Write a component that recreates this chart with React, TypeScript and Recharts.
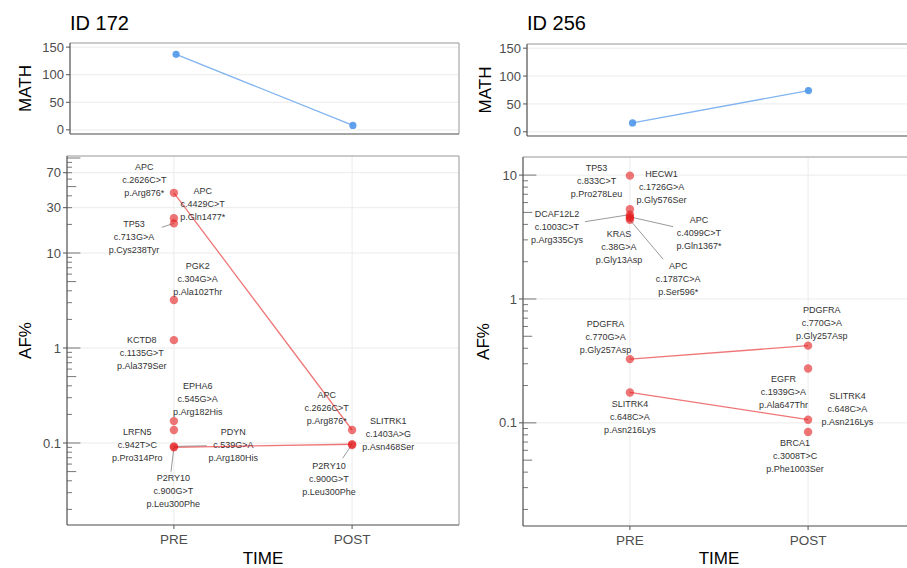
import React from 'react';
import { ScatterChart, Scatter, XAxis, YAxis, CartesianGrid, ReferenceLine } from 'recharts';

// ---- data ----
const timeLabels = ['PRE', 'POST'];
const mathTicks = [0, 50, 100, 150];
const math172 = [137, 8];
const math256 = [16, 74];

const afTicks172 = [0.1, 1, 10, 30, 70];
const afTicks256 = [0.1, 1, 10];

const genes172 = ['APC', 'APC', 'TP53', 'PGK2', 'KCTD8', 'EPHA6', 'LRFN5', 'PDYN', 'P2RY10', 'SLITRK1'];
const cdna172 = ['c.2626C>T', 'c.4429C>T', 'c.713G>A', 'c.304G>A', 'c.1135G>T', 'c.545G>A', 'c.942T>C', 'c.539G>A', 'c.900G>T', 'c.1403A>G'];
const protein172 = ['p.Arg876*', 'p.Gln1477*', 'p.Cys238Tyr', 'p.Ala102Thr', 'p.Ala379Ser', 'p.Arg182His', 'p.Pro314Pro', 'p.Arg180His', 'p.Leu300Phe', 'p.Asn468Ser'];
const pre172 = [43, 23.2, 20.5, 3.2, 1.21, 0.17, 0.137, 0.092, 0.09, null];
const post172 = [0.137, null, null, null, null, null, null, null, 0.097, 0.095];

const genes256 = ['TP53', 'HECW1', 'DCAF12L2', 'APC', 'KRAS', 'APC', 'PDGFRA', 'SLITRK4', 'EGFR', 'BRCA1'];
const cdna256 = ['c.833C>T', 'c.1726G>A', 'c.1003C>T', 'c.4099C>T', 'c.38G>A', 'c.1787C>A', 'c.770G>A', 'c.648C>A', 'c.1939G>A', 'c.3008T>C'];
const protein256 = ['p.Pro278Leu', 'p.Gly576Ser', 'p.Arg335Cys', 'p.Gln1367*', 'p.Gly13Asp', 'p.Ser596*', 'p.Gly257Asp', 'p.Asn216Lys', 'p.Ala647Thr', 'p.Phe1003Ser'];
const pre256 = [9.9, 5.3, 4.8, 4.6, 4.5, 4.35, 0.327, 0.176, null, null];
const post256 = [null, null, null, null, null, null, 0.42, 0.106, 0.275, 0.0845];

// ---- label placement (repelled labels, px offsets from the point) ----
type Off = number[] | null;
const labPre172: Off[] = [[-29.6, -13.5], [28.8, -14], [-39.9, 13.9], [23.8, -21.7], [-32.2, 12.2], [23.8, -22.8], [-36.6, 14.3], [59.4, -1.4], [-0.6, 43.3], null];
const segPre172: Off[] = [null, null, [-12.2, 3.9], null, null, null, null, [32.8, -0.7], [-2.9, 24.3], null];
const labPost172: Off[] = [[-25.4, -22.3], null, null, null, null, null, null, null, [-23.1, 35], [36.2, -11.1]];
const segPost172: Off[] = [null, null, null, null, null, null, null, null, [-9.4, 14], null];

const labPre256: Off[] = [[-33.3, 5.1], [31.7, -22.6], [-73, 12.1], [69, 15.8], [-11, 28.6], [48.3, 59.4], [-24.3, -22.4], [0, 24.1], null, null];
const segPre256: Off[] = [null, null, [-45, 7.1], [43.3, 9.8], null, [33.3, 39.4], null, null, null, null];
const labPost256: Off[] = [null, null, null, null, null, null, [13.7, -22.9], [39.3, -10.6], [-24.7, 23], [-13, 23.6]];
const segPost256: Off[] = [null, null, null, null, null, null, null, null, null, null];

const X_DOMAIN: [number, number] = [-0.6, 1.6];
const logMultiples = [1, 2, 3, 4, 5, 6, 7, 8, 9];

const RED = '#e41a1c';
const AXIS = '#555555';
const GRID = '#ebebeb';
const BORDER = '#a0a0a0';

function buildMutations(genes: string[], cdna: string[], protein: string[], pre: (number | null)[], post: (number | null)[],
  labPre: Off[], labPost: Off[], segPre: Off[], segPost: Off[]) {
  return genes.map((g, i) => {
    const pts: any[] = [];
    if (pre[i] != null) pts.push({ x: 0, y: pre[i], gene: g, cdna: cdna[i], protein: protein[i], lab: labPre[i], seg: segPre[i] });
    if (post[i] != null) pts.push({ x: 1, y: post[i], gene: g, cdna: cdna[i], protein: protein[i], lab: labPost[i], seg: segPost[i] });
    return pts;
  });
}

const series172 = buildMutations(genes172, cdna172, protein172, pre172, post172, labPre172, labPost172, segPre172, segPost172);
const series256 = buildMutations(genes256, cdna256, protein256, pre256, post256, labPre256, labPost256, segPre256, segPost256);

function logTicks(domain: [number, number]) {
  const out: { v: number; len: number }[] = [];
  for (let k = -3; k <= 3; k++) {
    for (const m of logMultiples) {
      const v = m * Math.pow(10, k);
      if (v < domain[0] || v > domain[1]) continue;
      out.push({ v, len: m === 1 ? 0.075 : m === 5 ? 0.052 : 0.028 });
    }
  }
  return out;
}

const MutationPoint = (props: any) => {
  const { cx, cy, payload } = props;
  if (cx == null || cy == null) return null;
  const p = payload;
  const lines = [p.gene, p.cdna, p.protein];
  return (
    <g>
      {p.seg && (
        <line x1={cx} y1={cy} x2={cx + p.seg[0]} y2={cy + p.seg[1]} stroke="#555" strokeWidth={0.6} />
      )}
      <circle cx={cx} cy={cy} r={4.2} fill={RED} fillOpacity={0.6} />
      {p.lab && (
        <text textAnchor="middle" fontSize={9} fill="#333">
          {lines.map((t, i) => (
            <tspan key={i} x={cx + p.lab[0]} y={cy + p.lab[1] + (i - 1) * 13 + 3.2}>{t}</tspan>
          ))}
        </text>
      )}
    </g>
  );
};

const MathDot = (props: any) => {
  const { cx, cy } = props;
  if (cx == null || cy == null) return null;
  return <circle cx={cx} cy={cy} r={3.6} fill="#4f97ea" fillOpacity={0.9} />;
};

const tickStyle = { fill: '#4d4d4d', fontSize: 13 };

const MathPanel: React.FC<{ left: number; top: number; values: number[]; marginTop: number; marginRight: number; yWidth: number; xHeight: number; title: string }> =
  ({ left, top, values, marginTop, marginRight, yWidth, xHeight, title }) => {
    const data = values.map((v, i) => ({ x: i, y: v, time: timeLabels[i] }));
    return (
      <div style={{ position: 'absolute', left, top }}>
        <div style={{ position: 'absolute', left: yWidth, top: 13, fontSize: 20, lineHeight: '20px', color: '#000', whiteSpace: 'nowrap' }}>{title}</div>
        <ScatterChart width={470} height={160} margin={{ top: marginTop, right: marginRight, left: 0, bottom: 0 }}>
          <CartesianGrid stroke={GRID} strokeWidth={1} />
          <XAxis type="number" dataKey="x" domain={X_DOMAIN} ticks={[0, 1]} tick={false} tickSize={5} height={xHeight}
            axisLine={{ stroke: AXIS, strokeWidth: 1.2 }} tickLine={{ stroke: AXIS }} allowDataOverflow />
          <YAxis type="number" dataKey="y" domain={[-7.5, 157.5]} ticks={mathTicks} width={yWidth} tickSize={4} tickMargin={2}
            tick={tickStyle} axisLine={{ stroke: AXIS, strokeWidth: 1.2 }} tickLine={{ stroke: AXIS }} allowDataOverflow
            label={{ value: 'MATH', angle: -90, position: 'insideLeft', offset: 25, fontSize: 17, fill: '#000', style: { textAnchor: 'middle' } }} />
          <ReferenceLine y={157.5} stroke={BORDER} ifOverflow="visible" />
          <ReferenceLine x={1.6} stroke={BORDER} ifOverflow="visible" />
          <Scatter data={data} line={{ stroke: '#80b4f0', strokeWidth: 1.3 }} shape={<MathDot />} isAnimationActive={false} />
        </ScatterChart>
      </div>
    );
  };

const AFPanel: React.FC<{ left: number; top: number; series: any[][]; domain: [number, number]; ticks: number[]; marginTop: number; marginRight: number; yWidth: number; xHeight: number; labelOffset: number }> =
  ({ left, top, series, domain, ticks, marginTop, marginRight, yWidth, xHeight, labelOffset }) => {
    const minor = logTicks(domain);
    return (
      <div style={{ position: 'absolute', left, top }}>
        <ScatterChart width={470} height={428} margin={{ top: marginTop, right: marginRight, left: 0, bottom: 4 }}>
          <CartesianGrid stroke={GRID} strokeWidth={1} />
          <XAxis type="number" dataKey="x" domain={X_DOMAIN} ticks={[0, 1]} tickFormatter={(v: number) => timeLabels[v]}
            tickSize={4} tickMargin={5} height={xHeight} tick={{ fill: '#4d4d4d', fontSize: 13.5 }}
            axisLine={{ stroke: AXIS, strokeWidth: 1.2 }} tickLine={{ stroke: AXIS }} allowDataOverflow
            label={{ value: 'TIME', position: 'insideBottom', offset: 0, fontSize: 17, fill: '#000' }} />
          <YAxis type="number" dataKey="y" scale="log" domain={domain} ticks={ticks} width={yWidth} tickSize={4} tickMargin={2}
            tick={tickStyle} axisLine={{ stroke: AXIS, strokeWidth: 1.2 }} tickLine={{ stroke: AXIS }} allowDataOverflow
            label={{ value: 'AF%', angle: -90, position: 'insideLeft', offset: labelOffset, fontSize: 17, fill: '#000', style: { textAnchor: 'middle' } }} />
          <ReferenceLine y={domain[1]} stroke={BORDER} ifOverflow="visible" />
          <ReferenceLine x={1.6} stroke={BORDER} ifOverflow="visible" />
          {minor.map((t, i) => (
            <ReferenceLine key={`lt-${i}`} segment={[{ x: X_DOMAIN[0], y: t.v }, { x: X_DOMAIN[0] + t.len, y: t.v }]}
              stroke={AXIS} strokeWidth={0.8} ifOverflow="visible" />
          ))}
          {series.map((pts, i) => (
            <Scatter key={`m-${i}`} data={pts} line={pts.length > 1 ? { stroke: RED, strokeOpacity: 0.6, strokeWidth: 1.3 } : false}
              shape={<MutationPoint />} isAnimationActive={false} />
          ))}
        </ScatterChart>
      </div>
    );
  };

export default function App() {
  return (
    <div style={{ position: 'absolute', left: 0, top: 0, width: 907, height: 568, overflow: 'hidden', background: '#fff',
      fontFamily: '"Liberation Sans", Arial, sans-serif' }}>
      <MathPanel left={0} top={0} values={math172} marginTop={43} marginRight={11} yWidth={70} xHeight={26} title="ID 172" />
      <MathPanel left={460} top={0} values={math256} marginTop={44} marginRight={16} yWidth={67} xHeight={24} title="ID 256" />
      <AFPanel left={0} top={140} series={series172} domain={[0.0137, 105]} ticks={afTicks172} marginTop={16} marginRight={11}
        yWidth={67} xHeight={39} labelOffset={25} />
      <AFPanel left={460} top={140} series={series256} domain={[0.0147, 14]} ticks={afTicks256} marginTop={17} marginRight={15}
        yWidth={63} xHeight={38} labelOffset={23} />
    </div>
  );
}
